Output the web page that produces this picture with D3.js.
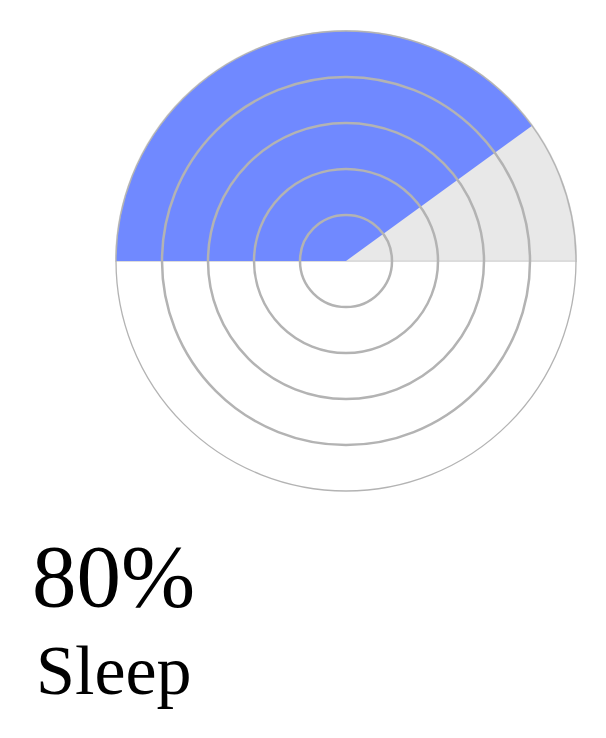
<!DOCTYPE html>
<html>
<head>
<meta charset="utf-8">
<script src="https://cdn.jsdelivr.net/npm/d3@7"></script>
<style>
html,body{margin:0;padding:0;background:#fff;}
</style>
</head>
<body>
<svg id="chart" width="606" height="738"></svg>
<script>
const value = 0.8;
const valueLabel = "80%";
const categoryLabel = "Sleep";
const ringLevels = [1, 2, 3, 4];
const ringMax = 5;

const svg = d3.select("#chart");
const cx = 346, cy = 261, R = 230;
const g = svg.append("g").attr("transform", `translate(${cx},${cy})`);

const rScale = d3.scaleLinear().domain([0, ringMax]).range([0, R]);
const angle = d3.scaleLinear().domain([0, 1]).range([-Math.PI / 2, Math.PI / 2]);
const arc = d3.arc().innerRadius(0).outerRadius(rScale(ringMax));

g.append("path")
  .attr("d", arc({startAngle: angle(0), endAngle: angle(1)}))
  .attr("fill", "#e8e8e8")
  .attr("stroke", "#dcdcdc")
  .attr("stroke-width", 2);

g.append("path")
  .attr("d", arc({startAngle: angle(0), endAngle: angle(value)}))
  .attr("fill", "#7089ff");

g.selectAll("circle.ring")
  .data(ringLevels)
  .join("circle")
  .attr("class", "ring")
  .attr("r", d => rScale(d))
  .attr("fill", "none")
  .attr("stroke", "#b3b3b3")
  .attr("stroke-width", 2.5);

g.append("circle")
  .attr("r", rScale(ringMax))
  .attr("fill", "none")
  .attr("stroke", "#b3b3b3")
  .attr("stroke-width", 1.3);

svg.append("text")
  .attr("x", 32)
  .attr("y", 606)
  .attr("font-family", "'Liberation Serif', serif")
  .attr("font-size", 89)
  .attr("fill", "#000")
  .text(valueLabel);

svg.append("text")
  .attr("x", 36)
  .attr("y", 694)
  .attr("font-family", "'Liberation Serif', serif")
  .attr("font-size", 70)
  .attr("fill", "#000")
  .text(categoryLabel);
</script>
</body>
</html>
